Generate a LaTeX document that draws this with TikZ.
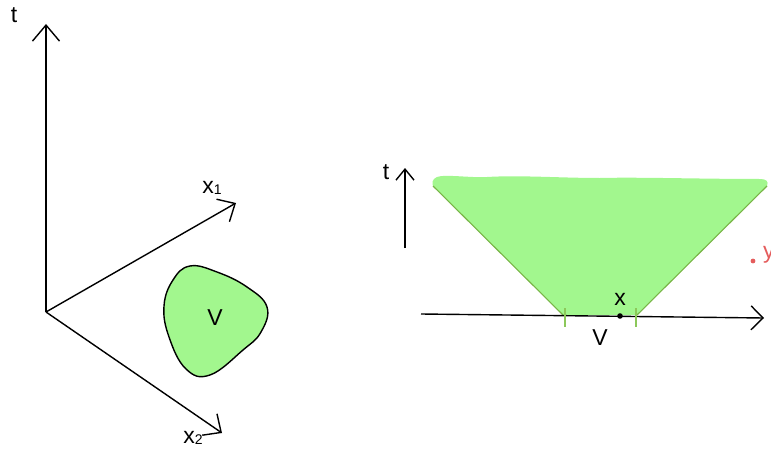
\documentclass[tikz,border=0pt]{standalone}
\usepackage{fontspec}
\setmainfont{Liberation Sans}
\usetikzlibrary{arrows.meta}
\definecolor{lgreen}{RGB}{162,247,142}
\definecolor{dgreen}{RGB}{120,180,70}
\definecolor{tgreen}{RGB}{140,200,90}
\definecolor{ared}{RGB}{228,92,92}
\begin{document}
\begin{tikzpicture}[x=1pt,y=-1pt,
  axis/.style={line width=1.4pt,-{Straight Barb[length=14pt,width=26pt,line width=1.4pt]}},
  lbl/.style={font=\fontsize{23}{23}\selectfont,inner sep=0pt}]
\clip (0,0) rectangle (771,452);
% left picture
\coordinate (O) at (46,312);
\coordinate (T) at (46,24);
\coordinate (X1) at (236,203);
\coordinate (X2) at (222,433);
\draw[axis,-{Straight Barb[length=16pt,width=27pt,line width=1.4pt]}] (O) -- (T);
\draw[axis] (O) -- (X1);
\draw[axis] (O) -- (X2);
\node[lbl] (tl) at (14,15) {t};
\node[lbl] (x1l) at (212,188) {x\raisebox{-1pt}{\fontsize{14}{14}\selectfont 1}};
\node[lbl] (x2l) at (193,438) {x\raisebox{-1pt}{\fontsize{14}{14}\selectfont 2}};
\draw[fill=lgreen,line width=1.4pt] plot[smooth cycle,tension=0.7] coordinates
  {(190,266) (217,272) (247,287) (267,307) (261,332) (243,350) (210,375) (186,369) (169,337) (164,306) (173,280)};
\node[lbl] (Vl) at (215,318) {V};
% right picture
\coordinate (HL) at (421,314);
\coordinate (HR) at (764,318);
\coordinate (TB) at (405,248);
\coordinate (TT) at (405,168);
\fill[lgreen] (433,186) -- (563,315) -- (637,315) -- (767,186)
  .. controls (769,181) and (766,179) .. (760,179)
  .. controls (700,179) and (640,177) .. (600,178)
  .. controls (560,178) and (520,175) .. (487,177)
  .. controls (470,178) and (445,174) .. (437,177)
  .. controls (432,179) and (432,183) .. (433,186) -- cycle;
\draw[dgreen,line width=1.1pt] (433,186) -- (563,315);
\draw[dgreen,line width=1.1pt] (767,186) -- (637,315);
\draw[axis,-{Straight Barb[length=12pt,width=24pt,line width=1.4pt]}] (HL) -- (HR);
\draw[axis,-{Straight Barb[length=11pt,width=18pt,line width=1.4pt]}] (TB) -- (TT);
\node[lbl] (tr) at (386,172) {t};
\draw[tgreen,line width=1.3pt] (565,308) -- (565,327);
\draw[tgreen,line width=1.3pt] (636,308) -- (636,327);
\fill (620,316) circle (2.8pt);
\node[lbl] (xr) at (620,299) {x};
\node[lbl] (Vr) at (600,338) {V};
\fill[ared] (753,261) circle (2.4pt);
\node[lbl,text=ared,anchor=west] (yr) at (763,255) {y};
\end{tikzpicture}
\end{document}
